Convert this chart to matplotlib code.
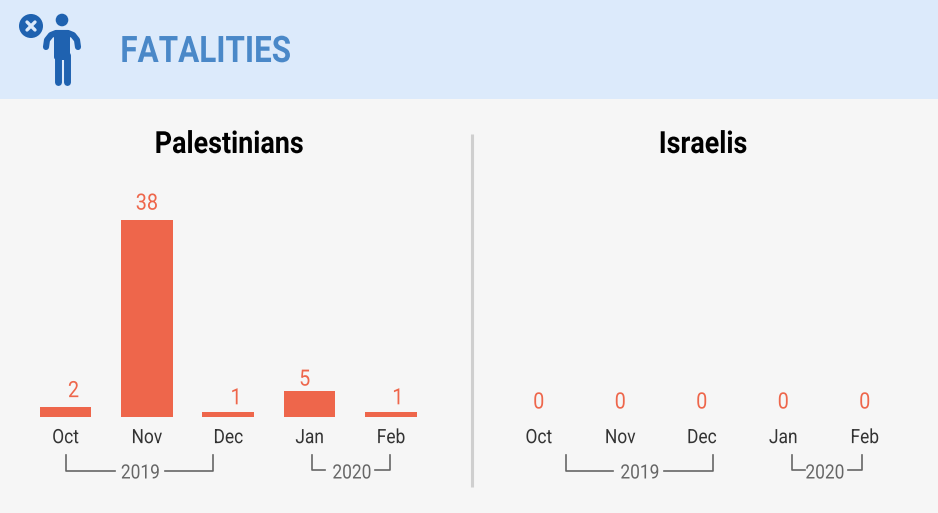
import matplotlib
matplotlib.use('Agg')
import matplotlib.pyplot as plt
from matplotlib.patches import Circle, FancyBboxPatch, Rectangle
from matplotlib.patheffects import AbstractPathEffect
from matplotlib.transforms import Affine2D

months = ['Oct', 'Nov', 'Dec', 'Jan', 'Feb']
palestinians = [2, 38, 1, 5, 1]
israelis = [0, 0, 0, 0, 0]

W, H = 938, 513
RED = '#EE664B'
BLUE = '#1F62B0'
plt.rcParams['font.family'] = ['Roboto']


class Condensed(AbstractPathEffect):
    # squeeze text sideways, no Roboto Condensed available here
    def __init__(self, sx=0.88, anchor='center'):
        super().__init__()
        self.sx = sx
        self.anchor = anchor

    def draw_path(self, renderer, gc, tpath, affine, rgbFace=None):
        ext = tpath.get_extents(affine)
        cx = ext.x0 if self.anchor == 'left' else (ext.x0 + ext.x1) / 2
        squeeze = Affine2D().translate(-cx, 0).scale(self.sx, 1).translate(cx, 0)
        renderer.draw_path(gc, tpath, affine + squeeze, rgbFace)


narrow = [Condensed()]

fig = plt.figure(figsize=(W / 100, H / 100), dpi=100, facecolor='#F6F6F6')

# overlay in pixel coords for header, divider, brackets
bg = fig.add_axes([0, 0, 1, 1])
bg.set_xlim(0, W)
bg.set_ylim(H, 0)
bg.axis('off')
bg.add_patch(Rectangle((0, 0), W, 98.5, color='#DCEAFB', lw=0))
bg.plot([472, 472], [134, 487], color='#CFCFCF', lw=2.2, solid_capstyle='butt')

# person icon
bg.add_patch(Circle((31, 26), 12, color=BLUE, lw=0))
bg.plot([27, 35], [22, 30], color='#DCEAFB', lw=2.4, solid_capstyle='round')
bg.plot([27, 35], [30, 22], color='#DCEAFB', lw=2.4, solid_capstyle='round')
bg.add_patch(Circle((62, 20), 6.3, color=BLUE, lw=0))
bg.add_patch(FancyBboxPatch((54, 30), 16, 30, boxstyle='round,pad=0,rounding_size=3', color=BLUE, lw=0))
bg.plot([46, 47, 51, 56, 68, 73, 77, 78], [47, 40, 35, 33, 33, 35, 40, 47], color=BLUE, lw=4.4,
        solid_capstyle='round', solid_joinstyle='round')
bg.plot([57.5, 57.5], [55, 82], color=BLUE, lw=5, solid_capstyle='round')
bg.plot([66.5, 66.5], [55, 82], color=BLUE, lw=5, solid_capstyle='round')

bg.text(120, 52, 'FATALITIES', color='#4A88C8', fontsize=26.3, fontweight='bold', va='center', ha='left',
        path_effects=[Condensed(0.86, 'left')])
bg.text(229, 144, 'Palestinians', color='black', fontsize=22, fontweight='bold', va='center', ha='center',
        path_effects=narrow)
bg.text(703, 144, 'Israelis', color='black', fontsize=22, fontweight='bold', va='center', ha='center',
        path_effects=narrow)


def bracket(x0, x1, xa, xb, xtext, y, label):
    color = '#666666'
    bg.plot([x0, x0, xa], [455, y, y], color=color, lw=1.2)
    bg.plot([xb, x1, x1], [y, y, 455], color=color, lw=1.2)
    bg.text(xtext, 473, label, color=color, fontsize=14.2, va='center', ha='center', path_effects=narrow)


bracket(66, 213, 115, 165, 140.5, 471, '2019')
bracket(312, 390, 325, 375, 352, 470, '2020')
bracket(566, 713, 613, 664, 640, 471, '2019')
bracket(792, 862, 805, 848, 825, 470, '2020')


def panel(x0, x1, values, offsets):
    # x0, x1 are pixel edges for the axes, baseline sits at y=417
    ax = fig.add_axes([x0 / W, (H - 417) / H, (x1 - x0) / W, 287 / H])
    ax.patch.set_alpha(0)
    ax.set_xlim(-0.5, 4.5)
    ax.set_ylim(0, 287 / 5.18)
    bars = ax.bar(months, values, width=0.633, color=RED)
    for rect, v, off in zip(bars, values, offsets):
        ax.annotate(str(v), (rect.get_x() + rect.get_width() / 2, v), xytext=off,
                    textcoords='offset pixels', color=RED,
                    fontsize=16.2, ha='center', va='center', path_effects=narrow)
    for s in ax.spines.values():
        s.set_visible(False)
    ax.set_yticks([])
    ax.tick_params(axis='x', length=0, pad=8, labelsize=14.2, labelcolor='#333333')
    for lab in ax.get_xticklabels():
        lab.set_path_effects(narrow)


panel(24.8, 431.7, palestinians, [(8, 15), (0, 16), (8, 13), (-5, 11), (7, 13)])
panel(498, 905.5, israelis, [(0, 14)] * 5)

fig.savefig('out.png', dpi=100, facecolor=fig.get_facecolor())
